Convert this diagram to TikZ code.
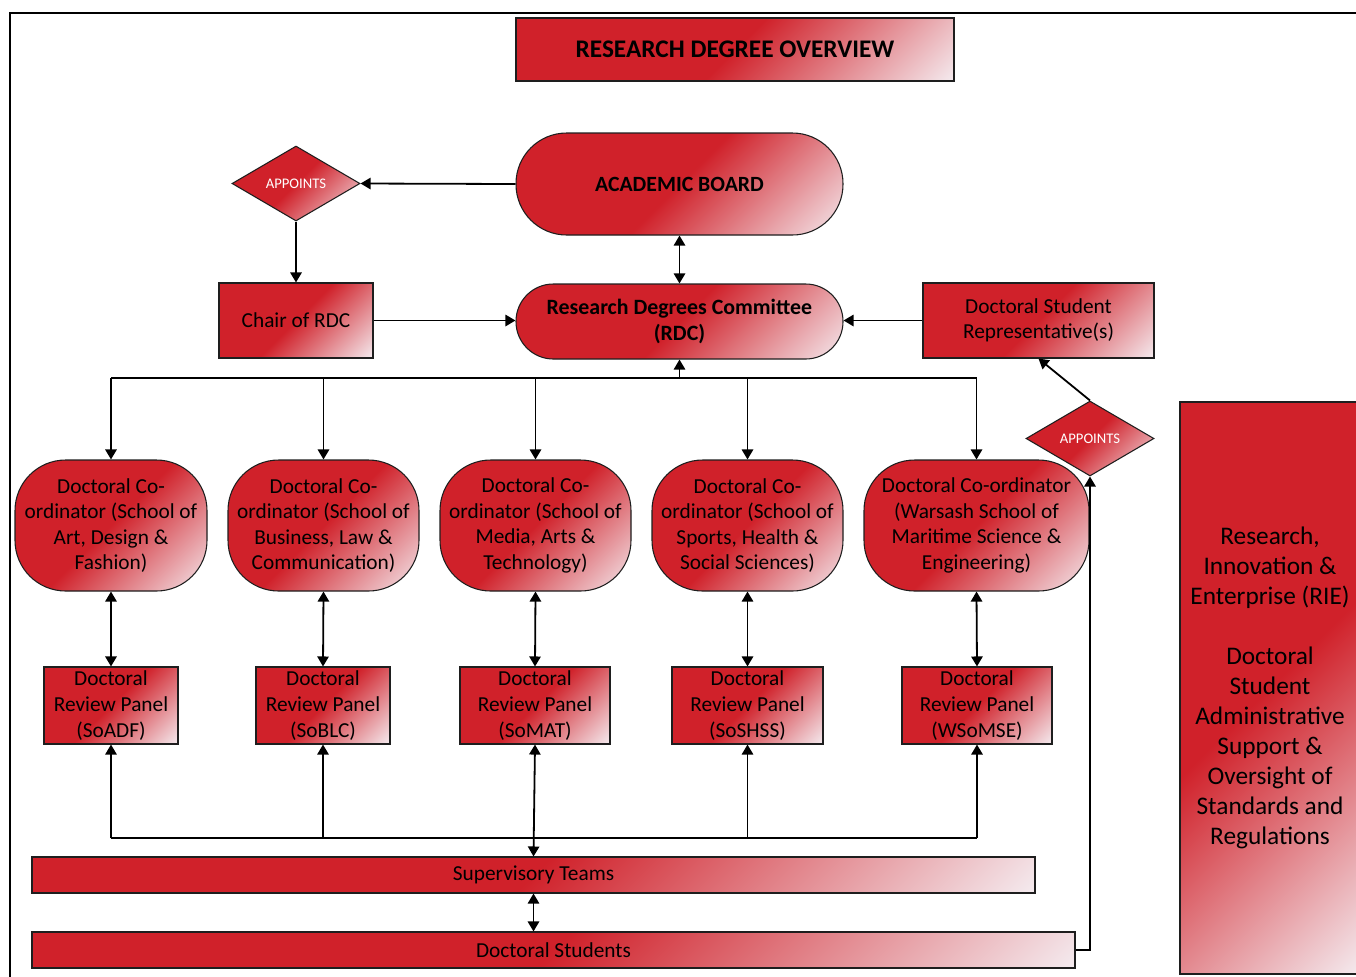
\documentclass[tikz,border=0pt]{standalone}
\usepackage{fontspec}
\setmainfont{Carlito}
\usetikzlibrary{arrows.meta,shapes.geometric}
\definecolor{rdark}{RGB}{208,33,42}
\definecolor{rlight}{RGB}{245,238,242}
\definecolor{edgecol}{RGB}{30,30,30}
\pgfdeclarehorizontalshading{redgrad}{100bp}{color(0bp)=(rdark); color(50bp)=(rdark); color(86bp)=(rlight); color(100bp)=(rlight)}
\tikzset{
  box/.style={draw=edgecol, line width=0.8pt, shade, shading=redgrad, shading angle=-45,
    inner sep=2pt, align=center, font=\fontsize{16}{19.2}\selectfont, text=black},
  diam/.style={box, diamond, aspect=1.7, inner sep=0pt, text=white,
    font=\fontsize{11}{13}\selectfont, minimum width={128*0.75pt}, minimum height={75*0.75pt}},
  wire/.style={line width=1.35pt, draw=black},
  arr/.style={wire, -{Triangle[length=7.5pt,width=8.5pt]}},
  dbl/.style={wire, {Triangle[length=7.5pt,width=8.5pt]}-{Triangle[length=7.5pt,width=8.5pt]}},
  coordbox/.style={box, rectangle, rounded corners=38pt, minimum height={131*0.75pt}},
  panel/.style={box, rectangle, minimum height={77*0.75pt}, inner sep=0pt},
}
\begin{document}
\begin{tikzpicture}[x=0.75pt,y=-0.75pt]
\useasboundingbox (0,0) rectangle (1356,976);
\clip (0,0) rectangle (1356,976);
\draw[line width=2pt] (10,13) rectangle (1380,1000);

% title
\node[box, minimum width={438*0.75pt}, minimum height={63*0.75pt}, font=\fontsize{19}{22}\selectfont\bfseries] (title) at (735,49.5) {RESEARCH DEGREE OVERVIEW};

% top level
\node[box, rounded corners=38pt, minimum width={327*0.75pt}, minimum height={102*0.75pt}, font=\fontsize{16.3}{19.5}\selectfont\bfseries] (ab) at (679.5,184) {ACADEMIC BOARD};
\node[box, rounded corners=28pt, minimum width={327*0.75pt}, minimum height={75*0.75pt}, font=\fontsize{16.4}{19.5}\selectfont\bfseries] (rdc) at (679.5,321.5) {Research Degrees Committee\\(RDC)};
\node[diam] (app1) at (296,183.5) {APPOINTS};
\node[box, minimum width={154*0.75pt}, minimum height={75*0.75pt}] (chair) at (296,320.5) {Chair of RDC};
\node[box, minimum width={231*0.75pt}, minimum height={75*0.75pt}] (rep) at (1038.5,320.5) {Doctoral Student\\Representative(s)};
\node[diam] (app2) at (1090,438.5) {APPOINTS};

% co-ordinators
\node[coordbox, minimum width={192*0.75pt}] (c1) at (111,525.5) {Doctoral Co-\\ordinator (School of\\Art, Design \&\\Fashion)};
\node[coordbox, minimum width={191*0.75pt}] (c2) at (323.5,525.5) {Doctoral Co-\\ordinator (School of\\Business, Law \&\\Communication)};
\node[coordbox, minimum width={191*0.75pt}] (c3) at (535.5,525.5) {Doctoral Co-\\ordinator (School of\\Media, Arts \&\\Technology)};
\node[coordbox, minimum width={191*0.75pt}] (c4) at (747.5,525.5) {Doctoral Co-\\ordinator (School of\\Sports, Health \&\\Social Sciences)};
\node[coordbox, minimum width={225*0.75pt}] (c5) at (976.5,525.5) {Doctoral Co-ordinator\\(Warsash School of\\Maritime Science \&\\Engineering)};

% review panels
\node[panel, minimum width={134*0.75pt}] (p1) at (111,705.5) {Doctoral\\Review Panel\\(SoADF)};
\node[panel, minimum width={134*0.75pt}] (p2) at (323,705.5) {Doctoral\\Review Panel\\(SoBLC)};
\node[panel, minimum width={150*0.75pt}] (p3) at (535,705.5) {Doctoral\\Review Panel\\(SoMAT)};
\node[panel, minimum width={151*0.75pt}] (p4) at (747.5,705.5) {Doctoral\\Review Panel\\(SoSHSS)};
\node[panel, minimum width={150*0.75pt}] (p5) at (977,705.5) {Doctoral\\Review Panel\\(WSoMSE)};

% bars
\node[box, minimum width={1003*0.75pt}, minimum height={36*0.75pt}, inner sep=0pt] (sup) at (533.5,875) {Supervisory Teams};
\node[box, minimum width={1043*0.75pt}, minimum height={36*0.75pt}, inner sep=0pt] (stud) at (553.5,950) {Doctoral Students};

% RIE
\node[box, minimum width={180*0.75pt}, minimum height={572*0.75pt}, font=\fontsize{19}{22.5}\selectfont] (rie) at (1270,688) {Research,\\Innovation \&\\Enterprise (RIE)\\[22.5pt]Doctoral\\Student\\Administrative\\Support \&\\Oversight of\\Standards and\\Regulations};

% connectors
\draw[arr] (ab.west) -- (app1.east);
\draw[arr] (app1.south) -- (chair.north);
\draw[arr] (chair.east) -- (rdc.west |- chair.east);
\draw[arr] (rep.west) -- (rdc.east |- rep.west);
\draw[dbl] (ab.south) -- (rdc.north);

\coordinate (bus) at (679.5,378);
\draw[arr] (bus) -- (rdc.south);
\draw[wire] (c1.north |- bus) -- (c5.north |- bus);
\foreach \i in {1,...,5} {
  \draw[arr] (c\i.north |- bus) -- (c\i.north);
  \draw[dbl] (c\i.south) -- (p\i.north);
}

\coordinate (bbus) at (533.5,838);
\draw[wire] (p1.south |- bbus) -- (p5.south |- bbus);
\foreach \i in {1,2,4,5} {
  \draw[arr] (p\i.south |- bbus) -- (p\i.south);
}
\draw[dbl] (p3.south) -- (sup.north);
\draw[dbl] (sup.south) -- (sup.south |- stud.north);
\draw[arr] (stud.east) -| (app2.south);
\draw[arr] (app2.north) -- (rep.south);
\end{tikzpicture}
\end{document}
